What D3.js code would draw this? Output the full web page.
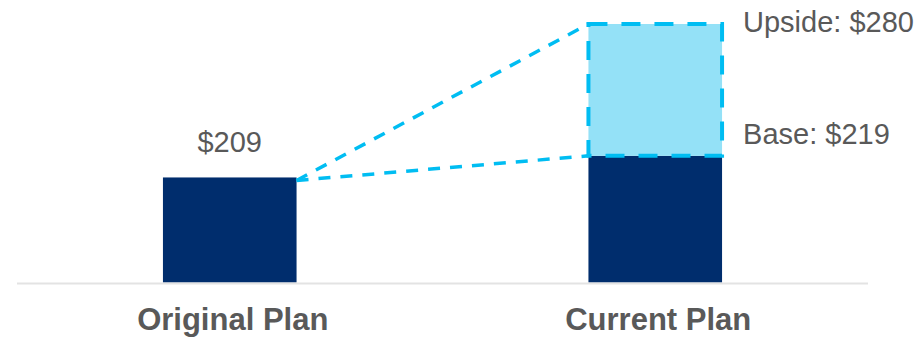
<!DOCTYPE html>
<html>
<head>
<meta charset="utf-8">
<script src="https://cdn.jsdelivr.net/npm/d3@7"></script>
<style>
  body { margin: 0; background: #fff; }
  text { font-family: Arial, "Liberation Sans", sans-serif; }
</style>
</head>
<body>
<div id="chart"></div>
<script>
// Set the size of the chart
const width = 921;
const height = 340;

// chart data
const categories = ["Original Plan", "Current Plan"];
const baseValues = [209, 219];
const upsideValue = 280;
const valueLabels = ["$209", "Base: $219"];
const upsideLabel = "Upside: $280";

const svg = d3.select("#chart")
  .append("svg")
  .attr("width", width)
  .attr("height", height);

// x scale for the two bars
const x = d3.scaleBand()
  .domain(categories)
  .range([17, 868])
  .paddingInner(0.686)
  .paddingOuter(0.343);

// y scale, the chart does not start at zero
const y = d3.scaleLinear()
  .domain([160.4, 280])
  .range([282.5, 24]);

const navy = "#002d6d";
const cyan = "#00bdf2";
const lightBlue = "#94e1f7";
const grey = "#595959";

// base bars
svg.selectAll("rect.base")
  .data(baseValues)
  .enter()
  .append("rect")
  .attr("class", "base")
  .attr("x", function(d, i) { return x(categories[i]); })
  .attr("y", function(d) { return y(d); })
  .attr("width", x.bandwidth())
  .attr("height", function(d) { return y.range()[0] - y(d); })
  .style("fill", navy);

// upside box on the current plan
const cur = categories[1];
svg.append("rect")
  .attr("x", x(cur))
  .attr("y", y(upsideValue))
  .attr("width", x.bandwidth())
  .attr("height", y(baseValues[1]) - y(upsideValue))
  .style("fill", lightBlue)
  .style("stroke", cyan)
  .style("stroke-width", 4)
  .style("stroke-dasharray", "19,14");

// connector lines from the original bar
const x0 = x(categories[0]) + x.bandwidth();
const y0 = y(baseValues[0]) + 3;
const targets = [baseValues[1], upsideValue];
svg.selectAll("line.conn")
  .data(targets)
  .enter()
  .append("line")
  .attr("class", "conn")
  .attr("x1", x0)
  .attr("y1", y0)
  .attr("x2", x(cur))
  .attr("y2", function(d) { return y(d); })
  .style("stroke", cyan)
  .style("stroke-width", 3.5)
  .style("stroke-dasharray", "12,10");

// axis line
svg.append("line")
  .attr("x1", 17)
  .attr("x2", 868)
  .attr("y1", 283.5)
  .attr("y2", 283.5)
  .style("stroke", "#e3e3e3")
  .style("stroke-width", 2);

// value label over original bar
svg.append("text")
  .attr("x", x(categories[0]) + x.bandwidth() / 2)
  .attr("y", y(baseValues[0]) - 25)
  .attr("text-anchor", "middle")
  .style("font-size", "29px")
  .style("fill", grey)
  .text(valueLabels[0]);

// labels right of current plan
svg.append("text")
  .attr("x", x(cur) + x.bandwidth() + 21)
  .attr("y", y(baseValues[1]) - 12)
  .style("font-size", "29px")
  .style("fill", grey)
  .text(valueLabels[1]);

svg.append("text")
  .attr("x", x(cur) + x.bandwidth() + 21)
  .attr("y", y(upsideValue) + 8)
  .style("font-size", "29px")
  .style("fill", grey)
  .text(upsideLabel);

// category labels
svg.selectAll("text.cat")
  .data(categories)
  .enter()
  .append("text")
  .attr("class", "cat")
  .attr("x", function(d) { return x(d) + x.bandwidth() / 2 + 3; })
  .attr("y", 330)
  .attr("text-anchor", "middle")
  .style("font-size", "31px")
  .style("font-weight", "bold")
  .style("fill", grey)
  .text(function(d) { return d; });
</script>
</body>
</html>
